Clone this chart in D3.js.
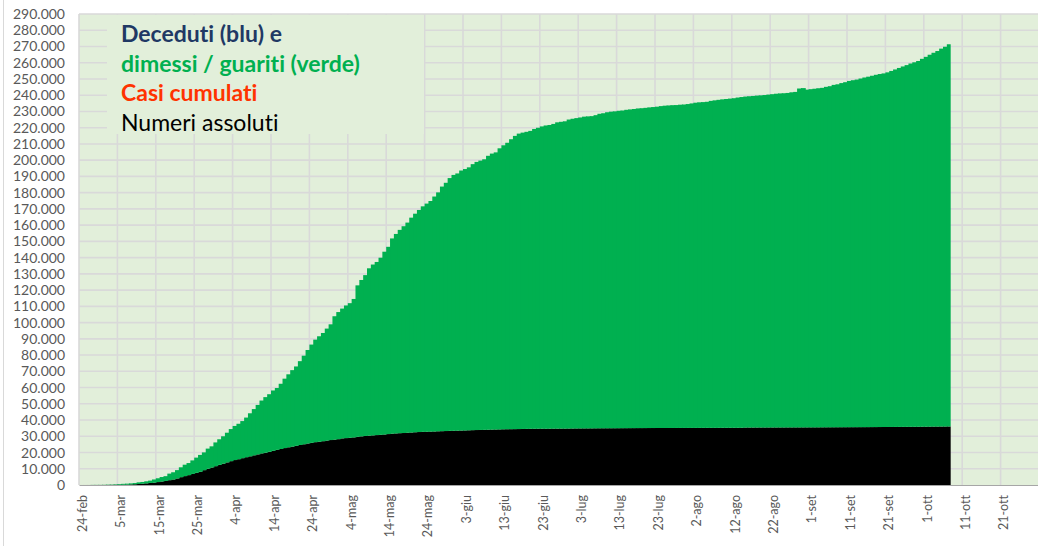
<!DOCTYPE html>
<html>
<head>
<meta charset="UTF-8">
<title>Deceduti e dimessi / guariti</title>
<style>
  body { margin: 0; background: #fff; }
  #chart svg { display: block; }
  #chart text { font-variant-ligatures: none; }
  .tick line { display: none; }
  .ylab text, .xlab text { fill: #595959; font-family: Lato, "Noto Sans", sans-serif; }
</style>
</head>
<body>
<div id="chart"></div>
<script src="https://cdnjs.cloudflare.com/ajax/libs/d3/7.8.5/d3.min.js"></script>
<script>
// cumulative deaths (black) and discharged / recovered (green), one value per day from 24-feb to 7-ott
const deceduti = [
  // feb 24-29
  7, 10, 12, 17, 21, 29,
  // mar
  34, 52, 79, 107, 148, 197, 233, 366, 463, 631, 827, 1016, 1266, 1441, 1809, 2158,
  2503, 2978, 3405, 4032, 4825, 5476, 6077, 6820, 7503, 8165, 9134, 10023, 10779, 11591, 12428,
  // apr
  13155, 13915, 14681, 15362, 15887, 16523, 17127, 17669, 18279, 18849, 19468, 19899, 20465, 21067, 21645,
  22170, 22745, 23227, 23660, 24114, 24648, 25085, 25549, 25969, 26384, 26644, 26977, 27359, 27682, 27967,
  // mag
  28236, 28710, 28884, 29079, 29315, 29684, 29958, 30201, 30395, 30560, 30739, 30911, 31106, 31368, 31610, 31763,
  31908, 32007, 32169, 32330, 32486, 32616, 32735, 32785, 32877, 32955, 33072, 33142, 33229, 33340, 33415,
  // giu
  33475, 33530, 33601, 33689, 33774, 33846, 33899, 33964, 34043, 34114, 34167, 34223, 34301, 34345, 34371,
  34405, 34448, 34514, 34561, 34610, 34634, 34657, 34675, 34644, 34678, 34708, 34716, 34738, 34744, 34767,
  // lug
  34788, 34818, 34833, 34854, 34861, 34869, 34899, 34914, 34926, 34938, 34945, 34954, 34967, 34984, 34997, 35017,
  35028, 35042, 35045, 35058, 35073, 35082, 35092, 35097, 35102, 35107, 35112, 35123, 35129, 35132, 35141,
  // ago
  35146, 35154, 35166, 35171, 35181, 35187, 35190, 35203, 35205, 35209, 35215, 35225, 35231, 35234, 35392, 35396,
  35400, 35405, 35412, 35418, 35427, 35430, 35437, 35441, 35445, 35458, 35463, 35472, 35473, 35477, 35483,
  // set
  35491, 35497, 35507, 35518, 35534, 35541, 35553, 35563, 35577, 35587, 35597, 35603, 35610, 35624, 35633,
  35645, 35658, 35668, 35692, 35707, 35724, 35738, 35758, 35781, 35801, 35818, 35835, 35851, 35875, 35894,
  // ott
  35918, 35941, 35968, 35986, 36002, 36030, 36061
];

const guariti = [
  // feb 24-29
  1, 1, 3, 45, 46, 50,
  // mar
  83, 149, 160, 276, 414, 523, 589, 622, 724, 1004, 1045, 1258, 1439, 1966, 2335, 2749,
  2941, 4025, 4440, 5129, 6072, 7024, 7432, 8326, 9362, 10361, 10950, 12384, 13030, 14620, 15729,
  // apr
  16847, 18278, 19758, 20996, 21815, 22837, 24392, 26491, 28470, 30455, 32534, 34211, 35435, 37130, 38092,
  40164, 42727, 44927, 47055, 48877, 51600, 54543, 57576, 60498, 63120, 64928, 66624, 68941, 71252, 75945,
  // mag
  78249, 79914, 81654, 82879, 85231, 93245, 96276, 99023, 103031, 105186, 106587, 109039, 112541, 115288, 120205, 122810,
  125176, 127326, 129401, 132282, 134560, 136720, 138840, 140479, 141981, 144658, 147101, 150604, 152844, 155633, 157507,
  // giu
  158355, 160092, 160938, 161895, 163781, 165078, 165837, 166584, 168646, 169939, 170630, 173085, 174865, 176370, 178526,
  180544, 181907, 182453, 182893, 183426, 184585, 185292, 186111, 186725, 186985, 187615, 188584, 188891, 189196, 190248,
  // lug
  190717, 191083, 191467, 191944, 192108, 192241, 192815, 193640, 193978, 194579, 194928, 195106, 195441, 195603, 196016, 196246,
  196483, 196806, 196949, 197162, 197431, 197628, 197842, 198192, 198446, 198593, 198756, 198806, 199031, 199149, 199416,
  // ago
  199796, 200229, 200460, 200589, 200766, 201323, 201642, 201947, 202248, 202461, 202697, 202923, 203326, 203640, 203786, 203968,
  204142, 204370, 204506, 204692, 204960, 205203, 205470, 205662, 205773, 205929, 206329, 206555, 208650, 208900, 207944,
  // set
  208224, 208490, 208784, 209015, 209610, 210015, 210801, 211161, 211885, 212432, 213191, 213634, 214020, 214645, 215265,
  215765, 216325, 216903, 217351, 217716, 218351, 219200, 220100, 221000, 221900, 222716, 223693, 224417, 225190, 226506,
  // ott
  227704, 228978, 230158, 231217, 232681, 233810, 235303
];

const tickLabels = ["24-feb", "5-mar", "15-mar", "25-mar", "4-apr", "14-apr", "24-apr", "4-mag", "14-mag", "24-mag",
  "3-giu", "13-giu", "23-giu", "3-lug", "13-lug", "23-lug", "2-ago", "12-ago", "22-ago", "1-set", "11-set",
  "21-set", "1-ott", "11-ott", "21-ott"];

const width = 1038, height = 550;
const plotLeft = 79, plotRight = 1039, plotTop = 14, plotBottom = 485;
const totalDays = 250;

const svg = d3.select("#chart").append("svg").attr("width", width).attr("height", height);

const x = d3.scaleLinear().domain([0, totalDays]).range([plotLeft, plotRight]);
const y = d3.scaleLinear().domain([0, 290000]).range([plotBottom, plotTop]);

const it = d3.formatLocale({decimal: ",", thousands: ".", grouping: [3], currency: ["", "€"]});
const fmt = it.format(",");

// chart border on the left
svg.append("line").attr("x1", 3.5).attr("x2", 3.5).attr("y1", 0).attr("y2", 546)
  .attr("stroke", "#d9d9d9").attr("stroke-width", 1);

// plot background
svg.append("rect").attr("x", plotLeft).attr("y", plotTop)
  .attr("width", plotRight - plotLeft).attr("height", plotBottom - plotTop)
  .attr("fill", "#e2efda");

// gridlines
const yTicks = d3.range(10000, 290001, 10000);
svg.append("g").selectAll("line").data(yTicks).join("line")
  .attr("x1", plotLeft).attr("x2", plotRight)
  .attr("y1", d => y(d)).attr("y2", d => y(d))
  .attr("stroke", "#d9d9d9").attr("stroke-width", 1.6);

const xTicks = d3.range(0, totalDays, 10);
svg.append("g").selectAll("line").data(xTicks).join("line")
  .attr("x1", d => x(d)).attr("x2", d => x(d))
  .attr("y1", plotTop).attr("y2", plotBottom)
  .attr("stroke", "#d9d9d9").attr("stroke-width", 1.6);

// text box (hides the grid behind it)
svg.append("rect").attr("x", 107).attr("y", 15).attr("width", 317).attr("height", 119).attr("fill", "#e2efda");

const notes = [
  {t: "Deceduti (blu) e", c: "#203864", w: "bold"},
  {t: "dimessi / guariti (verde)", c: "#00b050", w: "bold"},
  {t: "Casi cumulati", c: "#ff3300", w: "bold"},
  {t: "Numeri assoluti", c: "#000000", w: "normal"}
];
svg.append("g").selectAll("text").data(notes).join("text")
  .attr("x", 121).attr("y", (d, i) => 42 + i * 29.7)
  .attr("fill", d => d.c).attr("font-weight", d => d.w)
  .attr("font-family", "Lato, 'Noto Sans', sans-serif").attr("font-size", 23)
  .text(d => d.t);

// stacked daily bars, each one a pixel wider so neighbours overlap without seams
const rows = deceduti.map((d, i) => ({day: i, deceduti: d, guariti: guariti[i]}));
const series = d3.stack().keys(["deceduti", "guariti"])(rows);
const colors = {deceduti: "#000000", guariti: "#00b050"};
const step = x(1) - x(0);

svg.append("g").selectAll("g").data(series).join("g")
  .attr("fill", s => colors[s.key])
  .selectAll("rect").data(s => s).join("rect")
  .attr("x", d => x(d.data.day))
  .attr("width", d => d.data.day === deceduti.length - 1 ? step : step + 1)
  .attr("y", d => y(d[1]))
  .attr("height", d => y(d[0]) - y(d[1]));

// axes
const yAxis = d3.axisLeft(y).tickValues(d3.range(0, 290001, 10000)).tickFormat(fmt).tickSize(0).tickPadding(14);
svg.append("g").attr("class", "ylab").attr("transform", `translate(${plotLeft},0)`).call(yAxis)
  .call(g => g.select(".domain").remove())
  .selectAll("text").attr("font-size", 14);

const xAxis = d3.axisBottom(x).tickValues(xTicks).tickFormat((d, i) => tickLabels[i]).tickSize(0);
svg.append("g").attr("class", "xlab").attr("transform", `translate(0,${plotBottom})`).call(xAxis)
  .call(g => g.select(".domain").attr("stroke", "#a6a6a6").attr("stroke-width", 1.2))
  .selectAll("text")
  .attr("font-size", 12.5)
  .attr("transform", "rotate(-90)")
  .attr("x", -10).attr("y", 3).attr("dy", "0.35em")
  .style("text-anchor", "end");
</script>
</body>
</html>
